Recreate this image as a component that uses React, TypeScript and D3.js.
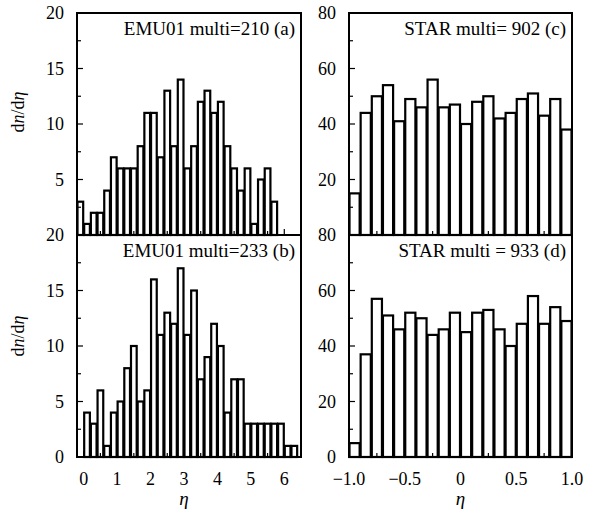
import * as d3 from "d3";

// η bins: width 0.2 for the EMU01 events, 0.1 for the STAR events
const emuBinWidth = 0.2;
const starBinWidth = 0.1;
const emuAStart = -0.2;
const emuBStart = 0;
const starStart = -1;

// counts per bin
const emuA = [3, 1, 2, 2, 4, 7, 6, 6, 6, 8, 11, 11, 7, 13, 8, 14, 6, 8, 12, 13, 11, 12, 8, 6, 4, 6, 1, 5, 6, 3];
const emuB = [4, 3, 6, 1, 4, 5, 8, 10, 5, 6, 16, 11, 13, 12, 17, 11, 15, 7, 9, 12, 10, 4, 7, 7, 3, 3, 3, 3, 3, 3, 1, 1];
const starC = [15, 44, 50, 54, 41, 49, 46, 56, 46, 47, 40, 48, 50, 42, 44, 49, 51, 43, 49, 38];
const starD = [5, 37, 57, 51, 46, 52, 50, 44, 46, 52, 45, 52, 53, 46, 40, 48, 58, 48, 54, 49];

const emuXTicks = [0, 1, 2, 3, 4, 5, 6];
const starXTicks = [-1, -0.5, 0, 0.5, 1];
const emuYTicks = [0, 5, 10, 15, 20];
const starYTicks = [0, 20, 40, 60, 80];

const labels = ["EMU01 multi=210 (a)", "EMU01 multi=233 (b)", "STAR multi= 902 (c)", "STAR multi = 933 (d)"];

const W = 589;
const H = 516;
const font = "Liberation Serif";

const leftX = d3.scaleLinear().domain([-0.2, 6.5]).range([77, 301]);
const rightX = d3.scaleLinear().domain([-1, 1]).range([349, 572]);
const topRange: [number, number] = [235, 13];
const botRange: [number, number] = [457, 235];

type PanelProps = {
  x: d3.ScaleLinear<number, number>;
  yMax: number;
  yRange: [number, number];
  values: number[];
  start: number;
  bin: number;
  yTicks: number[];
  yMinor: number;
  xMinor: number;
  showZero: boolean;
  label: string;
};

function Panel({ x, yMax, yRange, values, start, bin, yTicks, yMinor, xMinor, showZero, label }: PanelProps) {
  const y = d3.scaleLinear().domain([0, yMax]).range(yRange);
  const [x0, x1] = x.range();
  const [yb, yt] = y.range();
  const [d0, d1] = x.domain();
  const xt = d3.range(Math.ceil(d0 / xMinor) * xMinor, d1 + 1e-9, xMinor);
  const yt2 = d3.range(0, yMax + 1e-9, yMinor);
  return (
    <g>
      {values.map((v, i) => {
        const a = x(start + i * bin);
        const b = x(start + (i + 1) * bin);
        return (
          <rect key={i} x={a + 0.5} y={y(v)} width={b - a - 1} height={yb - y(v)}
            fill="#fff" stroke="#000" strokeWidth={2.2} />
        );
      })}
      {xt.map((t, i) => {
        const major = Math.abs(t - Math.round(t / (xMinor * 2)) * xMinor * 2) < 1e-6;
        return <line key={"x" + i} x1={x(t)} x2={x(t)} y1={yb} y2={yb - (major ? 6 : 4)} stroke="#000" strokeWidth={1.2} />;
      })}
      {yt2.map((t, i) => {
        const major = Math.abs(t - Math.round(t / (yMinor * 2)) * yMinor * 2) < 1e-6;
        return <line key={"y" + i} x1={x0} x2={x0 + (major ? 6 : 4)} y1={y(t)} y2={y(t)} stroke="#000" strokeWidth={1.2} />;
      })}
      <rect x={x0} y={yt} width={x1 - x0} height={yb - yt} fill="none" stroke="#000" strokeWidth={2} />
      {yTicks.filter((t) => showZero || t !== 0).map((t) => (
        <text key={"l" + t} x={x0 - 13} y={y(t)} dy="0.35em" textAnchor="end" fontSize={18}>
          {t}
        </text>
      ))}
      <text x={x1 - 6} y={yt + 22} textAnchor="end" fontSize={19}>
        {label}
      </text>
    </g>
  );
}

const fmtStar = (v: number) => (v === 0 ? "0" : d3.format(".1f")(v));

export default function App() {
  const yLabel = (cy: number) => (
    <text transform={`translate(24,${cy}) rotate(-90)`} textAnchor="middle" fontSize={18}>
      d<tspan fontStyle="italic">n</tspan>/d<tspan fontStyle="italic">η</tspan>
    </text>
  );
  return (
    <svg width={W} height={H} fontFamily={font}
      style={{ position: "absolute", left: 0, top: 0, background: "#fff" }}>
      <rect width={W} height={H} fill="#fff" />
      <Panel x={leftX} yMax={20} yRange={topRange} values={emuA} start={emuAStart} bin={emuBinWidth}
        yTicks={emuYTicks} yMinor={2.5} xMinor={0.5} showZero={false} label={labels[0]} />
      <Panel x={leftX} yMax={20} yRange={botRange} values={emuB} start={emuBStart} bin={emuBinWidth}
        yTicks={emuYTicks} yMinor={2.5} xMinor={0.5} showZero={true} label={labels[1]} />
      <Panel x={rightX} yMax={80} yRange={topRange} values={starC} start={starStart} bin={starBinWidth}
        yTicks={starYTicks} yMinor={10} xMinor={0.25} showZero={false} label={labels[2]} />
      <Panel x={rightX} yMax={80} yRange={botRange} values={starD} start={starStart} bin={starBinWidth}
        yTicks={starYTicks} yMinor={10} xMinor={0.25} showZero={true} label={labels[3]} />
      {emuXTicks.map((t) => (
        <text key={"ex" + t} x={leftX(t)} y={485} textAnchor="middle" fontSize={18}>{t}</text>
      ))}
      {starXTicks.map((t) => (
        <text key={"sx" + t} x={rightX(t)} y={485} textAnchor="middle" fontSize={18}>{fmtStar(t)}</text>
      ))}
      <text x={leftX(3)} y={505} textAnchor="middle" fontSize={19} fontStyle="italic">η</text>
      <text x={rightX(0)} y={505} textAnchor="middle" fontSize={19} fontStyle="italic">η</text>
      {yLabel(112)}
      {yLabel(336)}
    </svg>
  );
}
